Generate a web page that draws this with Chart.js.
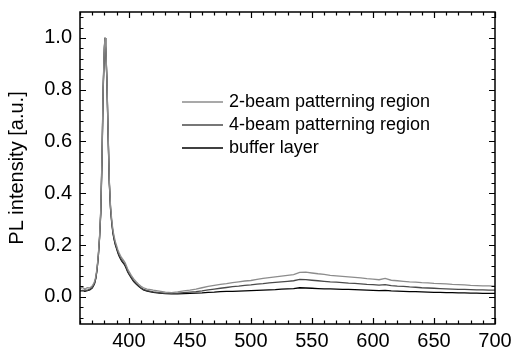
<!DOCTYPE html>
<html>
<head>
<meta charset="utf-8">
<script src="https://cdn.jsdelivr.net/npm/chart.js@4.4.0/dist/chart.umd.min.js"></script>
<style>
html, body { margin: 0; padding: 0; background: #fff; }
#plot { display: block; }
</style>
</head>
<body>
<canvas id="plot" width="516" height="351"></canvas>
<script>
// wavelength in nm, dense around the 380 nm peak
const wavelength = [
    360, 362, 364, 366, 368, 370, 371, 372, 373, 374, 375, 376, 377, 378, 379, 380, 380.5,
    381, 382, 383, 384, 385, 386, 387, 388, 389, 390, 391, 392, 393, 394, 395, 396, 397, 398, 399, 400,
    402, 404, 406, 408, 410, 412, 415, 418, 420, 425, 430, 435, 440, 445,
    450, 455, 460, 465, 470, 475, 480, 485, 490, 495, 500, 505, 510, 515, 520, 525, 530, 535, 540, 545,
    550, 555, 560, 565, 570, 575, 580, 585, 590, 595, 600, 605, 610, 615, 620, 625, 630, 635, 640, 645,
    650, 655, 660, 665, 670, 675, 680, 685, 690, 695, 700
];

const twoBeam = [
    0.032, 0.036, 0.030, 0.035, 0.034, 0.042, 0.050, 0.060, 0.080, 0.113, 0.163, 0.232, 0.335, 0.535, 0.815, 0.970, 1.0,
    0.975, 0.850, 0.640, 0.450, 0.352, 0.297, 0.257, 0.232, 0.212, 0.197, 0.182, 0.170, 0.160, 0.152, 0.145, 0.139, 0.131, 0.120, 0.108, 0.099,
    0.083, 0.069, 0.058, 0.049, 0.041, 0.035, 0.030, 0.028, 0.026, 0.022, 0.018, 0.016, 0.019, 0.023,
    0.026, 0.030, 0.035, 0.040, 0.044, 0.048, 0.051, 0.055, 0.058, 0.061, 0.063, 0.067, 0.071, 0.074, 0.077, 0.080, 0.083, 0.086, 0.094, 0.095,
    0.092, 0.089, 0.087, 0.083, 0.081, 0.079, 0.077, 0.075, 0.073, 0.070, 0.068, 0.066, 0.071, 0.064, 0.062, 0.060, 0.058, 0.057, 0.055, 0.054,
    0.052, 0.051, 0.050, 0.048, 0.047, 0.046, 0.044, 0.043, 0.042, 0.042, 0.041
];

const fourBeam = [
    0.026, 0.023, 0.027, 0.025, 0.029, 0.036, 0.044, 0.054, 0.074, 0.108, 0.158, 0.228, 0.330, 0.530, 0.810, 0.965, 1.0,
    0.972, 0.845, 0.635, 0.445, 0.345, 0.290, 0.250, 0.224, 0.204, 0.189, 0.174, 0.162, 0.152, 0.144, 0.137, 0.131, 0.123, 0.112, 0.100, 0.091,
    0.076, 0.062, 0.052, 0.043, 0.035, 0.029, 0.024, 0.021, 0.019, 0.016, 0.013, 0.013, 0.014, 0.016,
    0.018, 0.020, 0.023, 0.027, 0.030, 0.033, 0.036, 0.039, 0.041, 0.044, 0.046, 0.049, 0.051, 0.054, 0.056, 0.058, 0.060, 0.062, 0.067, 0.066,
    0.064, 0.062, 0.060, 0.058, 0.057, 0.055, 0.053, 0.052, 0.050, 0.048, 0.047, 0.045, 0.047, 0.043, 0.041, 0.040, 0.038, 0.037, 0.035, 0.034,
    0.033, 0.032, 0.031, 0.030, 0.029, 0.029, 0.028, 0.027, 0.027, 0.026, 0.026
];

const bufferLayer = [
    0.022, 0.025, 0.021, 0.024, 0.027, 0.034, 0.042, 0.052, 0.072, 0.105, 0.155, 0.225, 0.320, 0.520, 0.800, 0.960, 1.0,
    0.970, 0.840, 0.630, 0.440, 0.340, 0.285, 0.245, 0.220, 0.200, 0.185, 0.170, 0.158, 0.148, 0.140, 0.133, 0.127, 0.119, 0.108, 0.097, 0.088,
    0.073, 0.059, 0.049, 0.041, 0.033, 0.027, 0.022, 0.019, 0.017, 0.014, 0.012, 0.011, 0.011, 0.012,
    0.013, 0.014, 0.015, 0.017, 0.018, 0.020, 0.021, 0.021, 0.022, 0.023, 0.024, 0.025, 0.026, 0.027, 0.028, 0.030, 0.031, 0.032, 0.035, 0.034,
    0.033, 0.032, 0.031, 0.031, 0.030, 0.029, 0.029, 0.028, 0.027, 0.026, 0.025, 0.024, 0.025, 0.023, 0.022, 0.021, 0.020, 0.020, 0.019, 0.018,
    0.017, 0.017, 0.016, 0.016, 0.015, 0.015, 0.014, 0.014, 0.013, 0.013, 0.013
];

const seriesLabels = ['2-beam patterning region', '4-beam patterning region', 'buffer layer'];
const seriesColors = ['#8c8c8c', '#4a4a4a', '#000000'];

const FONT = '"Liberation Sans", Arial, Helvetica, sans-serif';

function toPoints(values) {
    return wavelength.map((x, i) => ({ x: x, y: values[i] }));
}

// box with inward major/minor ticks on all four sides + legend inside the plot
const framePlugin = {
    id: 'frame',
    afterDraw(chart) {
        const ctx = chart.ctx;
        const area = chart.chartArea;
        const xs = chart.scales.x;
        const ys = chart.scales.y;

        ctx.save();
        ctx.strokeStyle = '#000';
        ctx.lineWidth = 1.5;
        ctx.strokeRect(area.left, area.top, area.right - area.left, area.bottom - area.top);

        ctx.lineWidth = 1.2;
        ctx.beginPath();
        for (let v = 360; v <= 700; v += 10) {
            const px = Math.round(xs.getPixelForValue(v)) + 0.5;
            const len = v % 50 === 0 ? 6 : 3.5;
            ctx.moveTo(px, area.bottom);
            ctx.lineTo(px, area.bottom - len);
            ctx.moveTo(px, area.top);
            ctx.lineTo(px, area.top + len);
        }
        for (let k = -2; k <= 27; k++) {
            const py = Math.round(ys.getPixelForValue(k * 0.04)) + 0.5;
            const len = k % 5 === 0 ? 6 : 3.5;
            ctx.moveTo(area.left, py);
            ctx.lineTo(area.left + len, py);
            ctx.moveTo(area.right, py);
            ctx.lineTo(area.right - len, py);
        }
        ctx.stroke();

        // legend
        ctx.font = '18px ' + FONT;
        ctx.textBaseline = 'middle';
        ctx.textAlign = 'left';
        chart.data.datasets.forEach((ds, i) => {
            const y = area.top + 90 + i * 23;
            ctx.strokeStyle = ds.borderColor;
            ctx.lineWidth = 1.5;
            ctx.beginPath();
            ctx.moveTo(area.left + 102, y);
            ctx.lineTo(area.left + 143, y);
            ctx.stroke();
            ctx.fillStyle = '#000';
            ctx.fillText(ds.label, area.left + 149, y);
        });
        ctx.restore();
    }
};

const chart = new Chart(document.getElementById('plot').getContext('2d'), {
    type: 'line',
    data: {
        datasets: [
            { label: seriesLabels[0], data: toPoints(twoBeam), borderColor: seriesColors[0] },
            { label: seriesLabels[1], data: toPoints(fourBeam), borderColor: seriesColors[1] },
            { label: seriesLabels[2], data: toPoints(bufferLayer), borderColor: seriesColors[2] }
        ]
    },
    options: {
        responsive: false,
        animation: false,
        layout: {
            padding: { top: 12, right: 21, left: 0, bottom: 0 }
        },
        elements: {
            line: { borderWidth: 1.3, tension: 0 },
            point: { radius: 0 }
        },
        plugins: {
            legend: { display: false },
            tooltip: { enabled: false }
        },
        scales: {
            x: {
                type: 'linear',
                min: 360,
                max: 700,
                grid: { display: false, drawTicks: false },
                border: { display: false },
                ticks: {
                    stepSize: 50,
                    includeBounds: false,
                    color: '#000',
                    padding: 5,
                    maxRotation: 0,
                    font: { family: FONT, size: 20 }
                },
                afterFit(scale) {
                    scale.height = 27;
                    scale.paddingLeft = 0;
                    scale.paddingRight = 0;
                }
            },
            y: {
                type: 'linear',
                min: -0.105,
                max: 1.1,
                grid: { display: false, drawTicks: false },
                border: { display: false },
                ticks: {
                    stepSize: 0.2,
                    includeBounds: false,
                    color: '#000',
                    padding: 8,
                    font: { family: FONT, size: 20 },
                    callback: (v) => Number(v).toFixed(1)
                },
                title: {
                    display: true,
                    text: 'PL intensity [a.u.]',
                    color: '#000',
                    font: { family: FONT, size: 20 },
                    padding: { top: 5, bottom: 0 }
                },
                afterFit(scale) {
                    scale.width = 80;
                    scale.paddingTop = 0;
                    scale.paddingBottom = 0;
                }
            }
        }
    },
    plugins: [framePlugin]
});
</script>
</body>
</html>
